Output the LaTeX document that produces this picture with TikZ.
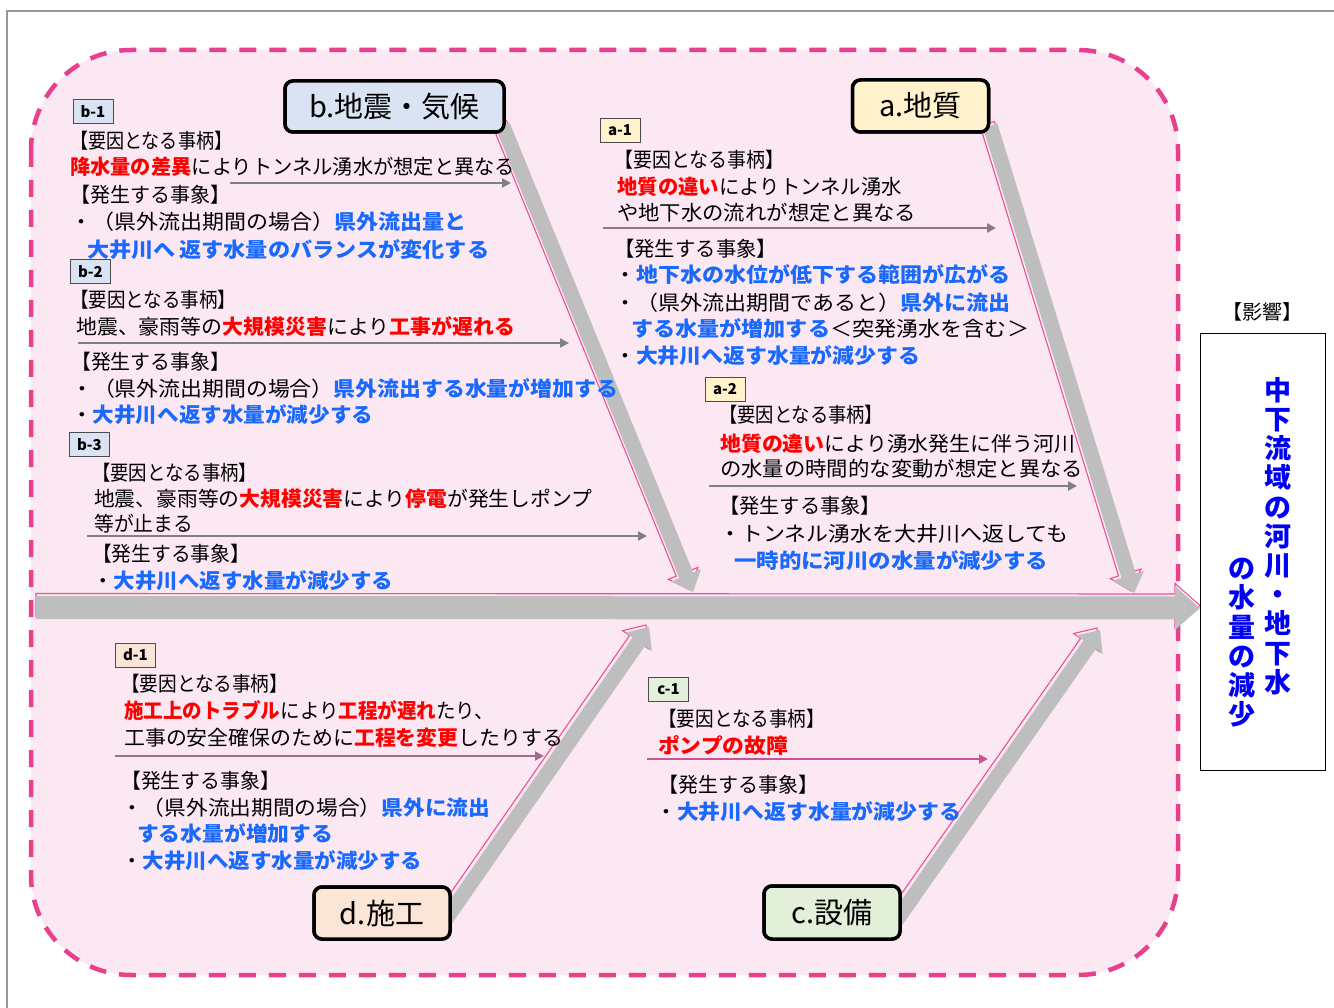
\documentclass[tikz,border=0pt]{standalone}
\usepackage{fontspec}
\setmainfont{Noto Sans CJK JP}
\usepackage{graphicx}
\usetikzlibrary{arrows.meta,calc}
\definecolor{bgpink}{RGB}{252,232,243}
\definecolor{dashpink}{RGB}{232,64,140}
\definecolor{bonegray}{RGB}{190,190,190}
\definecolor{boneedge}{RGB}{236,80,150}
\definecolor{jred}{RGB}{255,0,0}
\definecolor{jblue}{RGB}{25,105,255}
\definecolor{resblue}{RGB}{0,0,245}
\definecolor{catA}{RGB}{255,242,204}
\definecolor{catB}{RGB}{218,227,243}
\definecolor{catC}{RGB}{226,239,217}
\definecolor{catD}{RGB}{251,229,214}
\definecolor{arrgray}{RGB}{128,128,128}
\definecolor{arrmauve}{RGB}{160,110,140}
\definecolor{arrpink}{RGB}{200,85,145}
\newcommand\redb[1]{\textcolor{jred}{\bfseries #1}}
\newcommand\blueb[1]{\textcolor{jblue}{\bfseries #1}}
\newcommand\arrowshape[6]{%
  \coordinate (#2-base) at ($(#2)!#5!(#1)$);
  \path[#6] ($(#1)!#3!90:(#2)$) -- ($(#2-base)!#3!90:(#2)$) -- ($(#2-base)!#4!90:(#2)$) -- (#2) -- ($(#2-base)!#4!-90:(#2)$) -- ($(#2-base)!#3!-90:(#2)$) -- ($(#1)!#3!-90:(#2)$) -- cycle;}
\newcommand\tline[5]{\node[txt] (#1) at (#2,#3) {\resizebox{#4pt}{\height}{#5}};}
\tikzset{
  txt/.style={anchor=base west, inner sep=0pt, font=\fontsize{20.5pt}{24pt}\selectfont},
  tag/.style={draw=black!70, line width=0.8pt, inner sep=0pt, minimum width=40pt, minimum height=24pt, font=\fontsize{15pt}{15pt}\selectfont\bfseries},
  cat/.style={draw=black, line width=3.5pt, rounded corners=8pt, inner sep=0pt, font=\fontsize{29pt}{29pt}\selectfont},
  harrow/.style={line width=2.2pt, -{Triangle[width=9pt,length=9pt]}},
  vtext/.style={align=center, inner sep=0pt, text=resblue, font=\fontsize{27pt}{29.2pt}\selectfont\bfseries},
  pinkedge/.style={draw=boneedge, line width=1.1pt},
  grayfill/.style={fill=bonegray}
}
\begin{document}
\begin{tikzpicture}[x=1pt,y=-1pt]
\useasboundingbox (0,0) rectangle (1334,1008);
\fill[white] (0,0) rectangle (1334,1008);
\draw[draw=black!40, line width=1.5pt] (7,1008) -- (7,11) -- (1334,11);
% dashed frame
\draw[draw=dashpink, fill=bgpink, line width=4.5pt, dash pattern=on 17pt off 13pt, rounded corners=100pt] (31,50) rectangle (1178,975);

% category boxes (positions)
\node[cat, fill=catB, minimum width=219pt, minimum height=51pt] (bbox) at (394.5,106.5) {b.地震・気候};
\node[cat, fill=catA, minimum width=136pt, minimum height=52pt] (abox) at (920.5,106) {a.地質};
\node[cat, fill=catD, minimum width=136pt, minimum height=52pt] (dbox) at (382,913) {d.施工};
\node[cat, fill=catC, minimum width=136pt, minimum height=53pt] (cbox) at (832,912.5) {c.設備};

% bone coordinates
\coordinate (bS) at ($(bbox.south east)+(-3,-8)$);
\coordinate (bT) at (693,592);
\coordinate (aS) at ($(abox.south east)+(0,-8)$);
\coordinate (aT) at (1134,593);
\coordinate (dS) at ($(dbox.east)+(-12,15)$);
\coordinate (dT) at (649,627);
\coordinate (cS) at ($(cbox.east)+(-11,16)$);
\coordinate (cT) at (1100,630);
\coordinate (spS) at (36,607.5);
\coordinate (spT) at (1200,608);
\foreach \n in {bS,bT,aS,aT,dS,dT,cS,cT}{\coordinate (\n p) at ($(\n)+(-3,-2)$);}
\coordinate (spSp) at ($(spS)+(0,-2.5)$);
\coordinate (spTp) at ($(spT)+(0,-2.5)$);

% bones
\arrowshape{bSp}{bTp}{7.5pt}{16pt}{18pt}{pinkedge}
\arrowshape{bS}{bT}{7.5pt}{16pt}{18pt}{grayfill}
\arrowshape{aSp}{aTp}{7.5pt}{16pt}{18pt}{pinkedge}
\arrowshape{aS}{aT}{7.5pt}{16pt}{18pt}{grayfill}
\arrowshape{dSp}{dTp}{7.5pt}{16pt}{18pt}{pinkedge}
\arrowshape{dS}{dT}{7.5pt}{16pt}{18pt}{grayfill}
\arrowshape{cSp}{cTp}{7.5pt}{16pt}{18pt}{pinkedge}
\arrowshape{cS}{cT}{7.5pt}{16pt}{18pt}{grayfill}
% spine
\arrowshape{spSp}{spTp}{11.5pt}{22pt}{25pt}{pinkedge}
\arrowshape{spS}{spT}{11.5pt}{22pt}{25pt}{grayfill}

% redraw category boxes over bone ends
\node[cat, fill=catB, minimum width=219pt, minimum height=51pt] (bbox2) at (bbox) {b.地震・気候};
\node[cat, fill=catA, minimum width=136pt, minimum height=52pt] (abox2) at (abox) {a.地質};
\node[cat, fill=catD, minimum width=136pt, minimum height=52pt] (dbox2) at (dbox) {d.施工};
\node[cat, fill=catC, minimum width=136pt, minimum height=53pt] (cbox2) at (cbox) {c.設備};

% tags
\node[tag, fill=catB] (tb1) at (93,111.5) {b-1};
\node[tag, fill=catB] (tb2) at (90.5,271.5) {b-2};
\node[tag, fill=catB] (tb3) at (89.5,444.5) {b-3};
\node[tag, fill=catA] (ta1) at (620,130) {a-1};
\node[tag, fill=catA] (ta2) at (725,389.5) {a-2};
\node[tag, fill=catD] (td1) at (135.5,655) {d-1};
\node[tag, fill=catC] (tc1) at (668.5,689) {c-1};

% block arrows
\draw[harrow, arrgray] (230,183) -- (511,183);
\draw[harrow, arrgray] (78,343) -- (569,343);
\draw[harrow, arrgray] (87,536) -- (647,536);
\draw[harrow, arrmauve!70!arrgray] (603,228) -- (996,228);
\draw[harrow, arrgray] (709,486) -- (1077,486);
\draw[harrow, arrmauve] (115,756) -- (544,756);
\draw[harrow, arrpink] (647,759) -- (988,759);

% b-1
\tline{b1a}{70}{149}{162}{【要因となる事柄】}
\tline{b1b}{70}{175}{445}{\redb{降水量の差異}によりトンネル湧水が想定と異なる}
\tline{b1c}{70}{203}{160}{【発生する事象】}
\tline{b1d}{70}{230}{396}{・（県外流出期間の場合）\blueb{県外流出量と}}
\tline{b1e}{87}{258}{402}{\blueb{大井川へ\,返す水量のバランスが変化する}}
% b-2
\tline{b2a}{70}{308}{166}{【要因となる事柄】}
\tline{b2b}{76}{335}{439}{地震、豪雨等の\redb{大規模災害}により\redb{工事が遅れる}}
\tline{b2c}{71}{370}{159}{【発生する事象】}
\tline{b2d}{71}{396}{547}{・（県外流出期間の場合）\blueb{県外流出する水量が増加する}}
\tline{b2e}{71}{423}{302}{・\blueb{大井川へ返す水量が減少する}}
% b-3
\tline{b3a}{92}{480}{165}{【要因となる事柄】}
\tline{b3b}{94}{506}{498}{地震、豪雨等の\redb{大規模災害}により\redb{停電}が発生しポンプ}
\tline{b3c}{94}{531}{99}{等が止まる}
\tline{b3d}{92}{561}{158}{【発生する事象】}
\tline{b3e}{92}{588}{301}{・\blueb{大井川へ返す水量が減少する}}
% a-1
\tline{a1a}{614}{168}{170}{【要因となる事柄】}
\tline{a1b}{617}{195}{285}{\redb{地質の違い}によりトンネル湧水}
\tline{a1c}{617}{221}{299}{や地下水の流れが想定と異なる}
\tline{a1d}{614}{257}{163}{【発生する事象】}
\tline{a1e}{614}{283}{396}{・\blueb{地下水の水位が低下する範囲が広がる}}
\tline{a1f}{614}{311}{396}{・（県外流出期間であると）\blueb{県外に流出}}
\tline{a1g}{631}{337}{398}{\blueb{する水量が増加する}＜突発湧水を含む＞}
\tline{a1h}{614}{364}{306}{・\blueb{大井川へ返す水量が減少する}}
% a-2
\tline{a2a}{719}{423}{164}{【要因となる事柄】}
\tline{a2b}{720}{451}{355}{\redb{地質の違い}により湧水発生に伴う河川}
\tline{a2c}{720}{476}{363}{の水量の時間的な変動が想定と異なる}
\tline{a2d}{719}{513}{162}{【発生する事象】}
\tline{a2e}{719}{541}{349}{・トンネル湧水を大井川へ返しても}
\tline{a2f}{734}{568}{314}{\blueb{一時的に河川の水量が減少する}}
% d-1
\tline{d1a}{121}{691}{167}{【要因となる事柄】}
\tline{d1b}{124}{718}{370}{\redb{施工上のトラブル}により\redb{工程が遅れ}たり、}
\tline{d1c}{124}{745}{439}{工事の安全確保のために\redb{工程を変更}したりする}
\tline{d1d}{121}{788}{159}{【発生する事象】}
\tline{d1e}{121}{815}{369}{・（県外流出期間の場合）\blueb{県外に流出}}
\tline{d1f}{137}{841}{196}{\blueb{する水量が増加する}}
\tline{d1g}{121}{868}{301}{・\blueb{大井川へ返す水量が減少する}}
% c-1
\tline{c1a}{658}{726}{167}{【要因となる事柄】}
\tline{c1b}{658}{753}{130}{\redb{ポンプの故障}}
\tline{c1c}{658}{792}{160}{【発生する事象】}
\tline{c1d}{655}{819}{306}{・\blueb{大井川へ返す水量が減少する}}

% result
\node[font=\fontsize{20pt}{20pt}\selectfont, inner sep=0pt] (eik) at (1262,312) {【影響】};
\node[draw=black, line width=1.3pt, fill=white, minimum width=125pt, minimum height=437pt, inner sep=0pt] (res) at (1263,552) {};
\node[vtext, anchor=north] (resR) at (1278,377) {中\\下\\流\\域\\の\\河\\川\\・\\地\\下\\水};
\node[vtext, anchor=north] (resL) at (1242,558) {の\\水\\量\\の\\減\\少};
\end{tikzpicture}
\end{document}
